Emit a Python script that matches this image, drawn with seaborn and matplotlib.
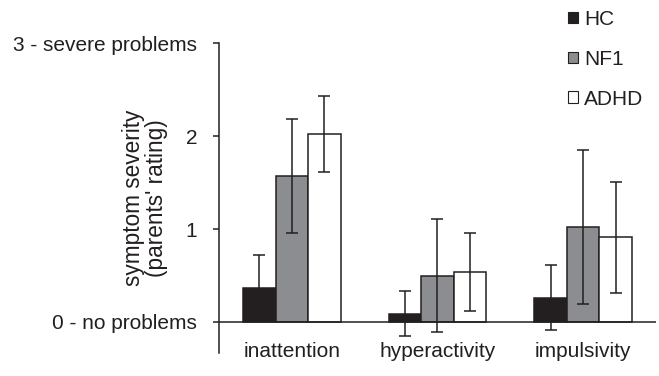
import matplotlib
matplotlib.use("Agg")
import matplotlib.pyplot as plt
import seaborn as sns
import pandas as pd

# ---------------- Data ----------------
symptoms = ["inattention", "hyperactivity", "impulsivity"]
groups = ["HC", "NF1", "ADHD"]
hc_mean = [0.37, 0.09, 0.26]
nf1_mean = [1.57, 0.50, 1.02]
adhd_mean = [2.02, 0.54, 0.91]
hc_err = [0.35, 0.24, 0.35]
nf1_err = [0.61, 0.61, 0.83]
adhd_err = [0.41, 0.42, 0.60]
ytick_labels = ["0 - no problems", "1", "2", "3 - severe problems"]

means = {"HC": hc_mean, "NF1": nf1_mean, "ADHD": adhd_mean}
errs = {"HC": hc_err, "NF1": nf1_err, "ADHD": adhd_err}

df = pd.DataFrame({
    "symptom": [s for g in groups for s in symptoms],
    "group": [g for g in groups for s in symptoms],
    "value": [v for g in groups for v in means[g]],
})

# ---------------- Plot ----------------
sns.set_style("white")
plt.rcParams["font.family"] = ["Liberation Sans", "DejaVu Sans"]
ink = "#231f20"
colors = {"HC": ink, "NF1": "#8c8d90", "ADHD": "#ffffff"}
fs = 15

fig = plt.figure(figsize=(6.59, 3.76), dpi=100)
ax = fig.add_axes([0.3323, 0.062, 0.6631, 0.8236])

sns.barplot(data=df, x="symptom", y="value", hue="group", order=symptoms,
            hue_order=groups, palette=colors, width=0.67, errorbar=None,
            edgecolor=ink, linewidth=1.1, saturation=1, ax=ax, legend=False)

# error bars on each bar
for g, cont in zip(groups, ax.containers):
    xs = [b.get_x() + b.get_width() / 2 for b in cont]
    ax.errorbar(xs, means[g], yerr=errs[g], fmt="none", ecolor=ink,
                elinewidth=1.1, capsize=4.2, capthick=1.1, zorder=3)

ax.axhline(0, color=ink, lw=1.1, zorder=4)
ax.set_xlim(-0.5, 2.5)
ax.set_ylim(-0.33, 3)
ax.set_yticks([0, 1, 2, 3])
ax.set_yticklabels(ytick_labels)
ax.set_xlabel("")
ax.set_ylabel("symptom severity\n(parents' rating)", fontsize=16.3,
              color=ink, linespacing=0.98)
ax.yaxis.set_label_coords(-0.117, 0.5)

for side in ["top", "right", "bottom"]:
    ax.spines[side].set_visible(False)
ax.spines["left"].set_color(ink)
ax.spines["left"].set_linewidth(1.1)
ax.tick_params(axis="y", left=True, length=4.3, width=1.1, color=ink,
               pad=11.5, labelsize=fs, labelcolor=ink)
ax.tick_params(axis="x", bottom=False, length=0, pad=-8,
               labelsize=fs, labelcolor=ink)

# legend
handles = [plt.Rectangle((0, 0), 1, 1, facecolor=colors[g], edgecolor=ink,
                         linewidth=0.8) for g in groups]
leg = fig.legend(handles, groups, loc="upper left",
                 bbox_to_anchor=(568 / 659, 1 - 10 / 376), frameon=False,
                 fontsize=fs, handlelength=0.48, handleheight=0.48,
                 handletextpad=0.3, labelspacing=1.0, borderpad=0,
                 borderaxespad=0)
for t in leg.get_texts():
    t.set_color(ink)

plt.savefig("out.png", dpi=100)
